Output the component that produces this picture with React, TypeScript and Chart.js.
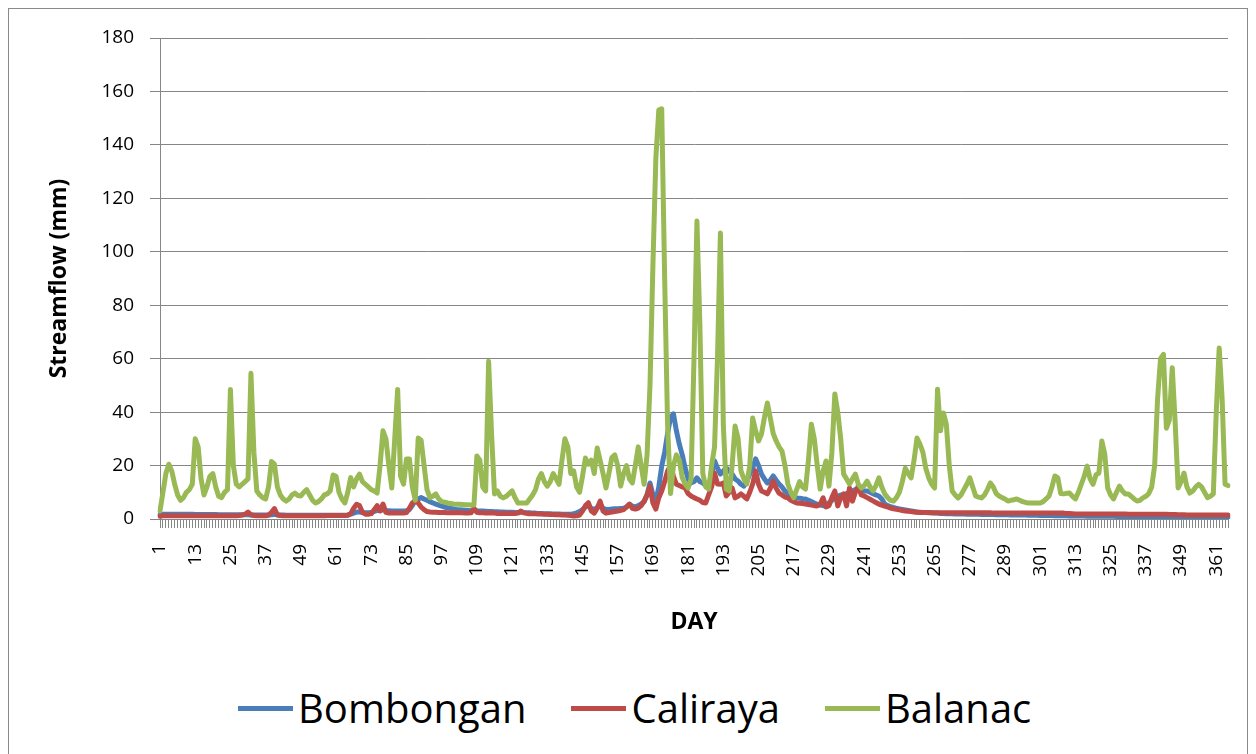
import React, { useEffect, useRef } from 'react';
import { Chart, registerables } from 'chart.js';

Chart.register(...registerables);

const DAYS: string[] = Array.from({ length: 365 }, (_, i) => String(i + 1));
const TICK_STEP = 12;

const BOMBONGAN: number[] = [
  1.5, 1.8, 1.8, 1.8, 1.8, 1.8, 1.8, 1.8, 1.8, 1.8,
  1.8, 1.8, 1.7, 1.7, 1.7, 1.7, 1.7, 1.7, 1.7, 1.7,
  1.6, 1.6, 1.6, 1.6, 1.6, 1.6, 1.6, 1.6, 1.6, 1.6,
  1.6, 1.5, 1.5, 1.5, 1.5, 1.5, 1.5, 1.5, 1.6, 1.8,
  1.5, 1.5, 1.5, 1.4, 1.4, 1.4, 1.4, 1.4, 1.4, 1.4,
  1.4, 1.4, 1.4, 1.4, 1.4, 1.4, 1.4, 1.4, 1.4, 1.4,
  1.4, 1.4, 1.4, 1.4, 1.5, 1.8, 2.2, 2.6, 2.6, 2.4,
  2.3, 2.3, 2.4, 2.8, 3.2, 3.2, 3.4, 3.2, 3.1, 3,
  3, 3, 3, 3, 3.1, 3.5, 5, 7, 7.5, 8,
  7.5, 7, 6.5, 6, 5.6, 5.2, 4.8, 4.5, 4.2, 4,
  3.8, 3.6, 3.5, 3.4, 3.3, 3.2, 3.1, 3.4, 3.1, 3,
  3, 2.9, 2.8, 2.8, 2.7, 2.7, 2.6, 2.6, 2.5, 2.5,
  2.5, 2.4, 2.4, 2.6, 2.4, 2.3, 2.3, 2.2, 2.2, 2.1,
  2.1, 2, 2, 2, 1.9, 1.9, 1.9, 1.8, 1.8, 1.8,
  1.8, 2, 2.3, 2.8, 3.5, 4.5, 5, 4, 3.6, 4.2,
  5.5, 4, 3.6, 3.6, 3.7, 3.8, 3.8, 3.9, 4, 4.5,
  5.5, 4.8, 4.5, 5, 5.6, 6.5, 9, 13.5, 9, 6.7,
  12, 19.8, 25, 32, 38, 39.3, 33, 28, 24, 19,
  15, 13.5, 14, 15.4, 14, 13.5, 12.5, 11.6, 17, 21.7,
  19, 16.8, 18, 19.1, 18, 16.8, 15, 14.2, 13, 12.3,
  14, 16.8, 19, 22.5, 20, 16.8, 15, 13.5, 14.5, 16.1,
  14.5, 13.1, 12, 10.5, 9.5, 8.6, 8.2, 7.9, 7.8, 7.6,
  7.5, 7, 6.5, 6, 5.5, 5.2, 5, 4.9, 6, 7,
  8, 8.5, 9, 9, 9.5, 10, 10.5, 11, 11, 11,
  10.5, 10.5, 10, 9.5, 9, 8.6, 7.5, 5.6, 5, 4.6,
  4.3, 4, 3.8, 3.6, 3.4, 3.2, 3, 2.8, 2.6, 2.5,
  2.4, 2.4, 2.3, 2.3, 2.2, 2.2, 2.1, 2.1, 2, 2,
  2, 1.9, 1.9, 1.9, 1.9, 1.8, 1.8, 1.8, 1.8, 1.8,
  1.7, 1.7, 1.7, 1.7, 1.7, 1.6, 1.6, 1.6, 1.6, 1.6,
  1.5, 1.5, 1.5, 1.5, 1.5, 1.5, 1.4, 1.4, 1.4, 1.4,
  1.3, 1.3, 1.3, 1.3, 1.3, 1.2, 1.2, 1.2, 1.2, 1.2,
  1.1, 1.1, 1.1, 1.1, 1.1, 1.1, 1, 1, 1, 1,
  1, 1, 1, 1, 1, 1, 0.95, 0.95, 0.95, 0.95,
  0.9, 0.9, 0.9, 0.9, 0.9, 0.9, 0.85, 0.85, 0.85, 0.85,
  0.85, 0.85, 0.8, 0.8, 0.8, 0.8, 0.8, 0.8, 0.8, 0.8,
  0.75, 0.75, 0.75, 0.75, 0.75, 0.75, 0.7, 0.7, 0.7, 0.7,
  0.7, 0.7, 0.7, 0.7, 0.7,
];

const CALIRAYA: number[] = [
  1, 1.2, 1.2, 1.2, 1.2, 1.2, 1.2, 1.2, 1.2, 1.2,
  1.2, 1.2, 1.2, 1.2, 1.2, 1.2, 1.2, 1.2, 1.2, 1.2,
  1.2, 1.2, 1.2, 1.2, 1.2, 1.2, 1.2, 1.3, 1.5, 1.8,
  2.6, 1.6, 1.3, 1.2, 1.2, 1.2, 1.2, 1.5, 2.5, 3.9,
  1.6, 1.3, 1.2, 1.2, 1.2, 1.2, 1.2, 1.2, 1.2, 1.2,
  1.2, 1.2, 1.2, 1.2, 1.2, 1.2, 1.2, 1.3, 1.3, 1.3,
  1.3, 1.3, 1.3, 1.3, 1.4, 2, 4, 5.5, 5, 2.5,
  1.8, 1.8, 2, 3.5, 5, 3, 5.6, 2.5, 2.2, 2.2,
  2.2, 2.2, 2.2, 2.2, 2.4, 4, 6, 6.7, 6, 4.5,
  3.5, 2.8, 2.6, 2.5, 2.5, 2.4, 2.4, 2.4, 2.3, 2.3,
  2.3, 2.3, 2.3, 2.3, 2.2, 2.2, 2.3, 4, 2.5, 2.3,
  2.3, 2.2, 2.2, 2.2, 2.2, 2.1, 2.1, 2.1, 2.1, 2.1,
  2.1, 2.1, 2.2, 3, 2.3, 2.1, 2, 2, 2, 1.9,
  1.9, 1.8, 1.8, 1.7, 1.7, 1.6, 1.6, 1.5, 1.5, 1.4,
  1.3, 1.1, 1.2, 1.5, 3, 5, 6.1, 3, 2.2, 4,
  6.7, 3, 2.2, 2.4, 2.6, 2.8, 3, 3.2, 3.5, 4.5,
  5.6, 4, 3.7, 4.1, 5, 6.7, 9, 12.3, 6, 3.7,
  8, 10.5, 14, 18, 20, 16, 13, 12.5, 12, 11.6,
  9.5, 8.6, 8, 7.5, 7, 6.2, 6, 9, 12, 17.2,
  13.1, 13, 13.5, 8.6, 10, 11.6, 7.9, 8.5, 9.4, 8.5,
  7.5, 10, 13.1, 18, 13, 10.5, 10, 9.4, 11.5, 14.2,
  11.5, 9.7, 9, 8.2, 7.9, 7, 6.5, 6, 5.9, 5.8,
  5.6, 5.4, 5.2, 5, 4.9, 5.5, 7.9, 4.5, 5, 8,
  10.5, 4.9, 8, 9.4, 4.9, 11.6, 6.7, 10, 12.3, 9,
  8.6, 8, 7.4, 6.8, 6.2, 5.6, 5.2, 4.8, 4.5, 4.1,
  3.8, 3.6, 3.4, 3.2, 3, 2.9, 2.8, 2.6, 2.5, 2.4,
  2.4, 2.4, 2.4, 2.3, 2.3, 2.3, 2.3, 2.3, 2.3, 2.3,
  2.3, 2.3, 2.3, 2.3, 2.3, 2.3, 2.3, 2.3, 2.3, 2.3,
  2.3, 2.3, 2.3, 2.3, 2.2, 2.2, 2.2, 2.2, 2.2, 2.2,
  2.2, 2.2, 2.2, 2.2, 2.2, 2.2, 2.2, 2.2, 2.2, 2.2,
  2.2, 2.2, 2.2, 2.2, 2.2, 2.2, 2.2, 2.2, 2.2, 2.1,
  2.1, 2, 1.9, 1.9, 1.9, 1.9, 1.9, 1.9, 1.9, 1.9,
  1.9, 1.9, 1.9, 1.9, 1.9, 1.9, 1.9, 1.9, 1.9, 1.9,
  1.8, 1.8, 1.8, 1.8, 1.8, 1.8, 1.8, 1.8, 1.8, 1.8,
  1.8, 1.8, 1.8, 1.8, 1.7, 1.7, 1.7, 1.6, 1.6, 1.6,
  1.5, 1.5, 1.5, 1.5, 1.5, 1.5, 1.5, 1.5, 1.5, 1.5,
  1.5, 1.5, 1.5, 1.5, 1.5,
];

const BALANAC: number[] = [
  3, 10, 17, 20.5, 18, 13, 9, 7, 8, 10,
  11, 13, 30, 27, 15, 9, 12, 16, 17, 12,
  8.5, 8, 10, 11, 48.5, 20, 13, 12, 13, 14,
  15, 54.5, 25, 10.5, 9, 8, 7.5, 12, 21.5, 20.5,
  12, 9, 7.5, 6.7, 7.5, 9, 9.7, 8.8, 8.6, 10,
  11, 9, 7, 6, 6.5, 7.5, 9, 9.4, 10.5, 16.5,
  16, 10, 7.5, 6, 10, 15.5, 12, 15, 16.8, 14,
  13, 12, 11, 10.5, 9.7, 20, 33, 30, 20, 11.6,
  30, 48.5, 16, 13, 22.5, 22.5, 12, 7, 30.3, 29.5,
  20, 11, 8, 8.5, 9.4, 7.5, 6.5, 6.3, 6, 5.8,
  5.6, 5.5, 5.5, 5.4, 5.3, 5.3, 5.2, 5.2, 23.6, 22,
  12, 10.5, 59, 32, 9.4, 10.5, 8.5, 7.9, 8.5, 9.5,
  10.5, 8, 6, 6, 6, 6, 7.5, 9, 11, 15,
  17, 14, 12.3, 14, 17, 15, 13, 22, 30, 27,
  17, 18, 12, 10, 16, 22.8, 20.5, 22, 17, 26.6,
  22, 17, 11.6, 17, 23, 24, 20, 12.3, 17, 20,
  15, 13.5, 20, 27, 20, 13, 24, 50, 95, 135,
  153, 153.5, 90, 35, 9.5, 20, 24, 22, 15.5, 13,
  11.6, 15, 60, 111.5, 73, 17, 12, 11.2, 20, 27,
  60, 107, 35, 11.2, 10.5, 20, 34.8, 30.3, 18, 15,
  13.1, 20, 37.8, 33, 29.2, 31.8, 38, 43.4, 37.8, 32,
  29.2, 27, 25.4, 20, 13.1, 10, 7.9, 11, 14, 12,
  11.2, 22, 35.5, 30, 20, 11.2, 18, 21.7, 12.3, 25,
  46.8, 40, 30, 16.8, 15, 13.1, 15, 16.8, 13, 11.6,
  12.5, 14.2, 12, 10.5, 12.5, 15.4, 12, 9.4, 8, 7,
  6.7, 8, 10, 14, 19, 17, 15.4, 22, 30.3, 28,
  25, 19, 15.4, 13, 11.6, 48.6, 33, 39.7, 35.5, 20,
  10.5, 9, 7.9, 9, 11, 13, 15.4, 12, 8.6, 8.2,
  7.9, 9, 11, 13.5, 12, 9.5, 8.6, 8, 7.5, 6.7,
  7, 7.2, 7.5, 7, 6.5, 6.2, 6, 6, 6, 6,
  6, 6.5, 7.5, 8.6, 12, 16.1, 15.4, 9.5, 9.4, 9.6,
  9.7, 8.5, 7.5, 10, 13, 16, 19.8, 15, 13, 16.5,
  17.2, 29.2, 24.3, 11.6, 9, 7.5, 10, 12.3, 10.5, 9.4,
  9.4, 8.5, 7.5, 6.7, 7, 7.9, 8.5, 9.5, 12, 20,
  45, 60, 61.6, 34, 37, 56.6, 36, 11.6, 14, 17.2,
  12, 9.7, 10.5, 12, 13, 12, 10, 8, 8.5, 9.4,
  40, 64, 45, 13, 12.5,
];

const SERIES_NAMES = ['Bombongan', 'Caliraya', 'Balanac'];
const SERIES_COLORS = ['#4A7EBB', '#BE4B48', '#98B954'];
const Y_MIN = 0;
const Y_MAX = 180;
const Y_STEP = 20;
const X_TITLE = 'DAY';
const Y_TITLE = 'Streamflow (mm)';

const FONT = '"Open Sans", "DejaVu Sans", sans-serif';
const GRID = '#868686';

export default function App() {
  const ref = useRef<HTMLCanvasElement>(null);

  useEffect(() => {
    document.documentElement.style.overflow = 'hidden';
    document.body.style.overflow = 'hidden';
    const series = [BOMBONGAN, CALIRAYA, BALANAC];
    const chart = new Chart(ref.current as HTMLCanvasElement, {
      type: 'line',
      data: {
        labels: DAYS,
        datasets: series.map((d, i) => ({
          label: SERIES_NAMES[i],
          data: d,
          borderColor: SERIES_COLORS[i],
          backgroundColor: SERIES_COLORS[i],
          borderWidth: 5,
          pointRadius: 0,
          pointHoverRadius: 0,
          tension: 0,
          borderJoinStyle: 'round' as const,
          borderCapStyle: 'round' as const,
          fill: false,
          order: 3 - i,
        })),
      },
      options: {
        responsive: false,
        animation: false,
        events: [],
        layout: { padding: { left: 33, top: 29, right: 19, bottom: 29 } },
        plugins: {
          legend: { display: false },
          tooltip: { enabled: false },
        },
        scales: {
          x: {
            type: 'category',
            offset: false,
            grid: { drawOnChartArea: false, drawTicks: true, tickLength: 9, color: GRID, lineWidth: 1 },
            border: { color: GRID, width: 1 },
            ticks: {
              autoSkip: false,
              minRotation: 90,
              maxRotation: 90,
              padding: 16,
              color: '#000',
              font: { family: FONT, size: 19 },
              callback: (_v: any, i: number) => (i % TICK_STEP === 0 ? DAYS[i] : ''),
            },
            title: {
              display: true,
              text: X_TITLE,
              color: '#000',
              font: { family: FONT, size: 23, weight: 'bold' },
              padding: { top: 4, bottom: 4 },
            },
            afterFit: (s: any) => {
              s.height = 121;
              s.paddingLeft = 0;
              s.paddingRight = 0;
            },
          },
          y: {
            min: Y_MIN,
            max: Y_MAX,
            grid: { color: GRID, lineWidth: 1, tickLength: 10, drawTicks: true },
            border: { color: GRID, width: 1 },
            ticks: {
              stepSize: Y_STEP,
              padding: 16,
              color: '#000',
              font: { family: FONT, size: 19 },
            },
            title: {
              display: true,
              text: Y_TITLE,
              color: '#000',
              font: { family: FONT, size: 23, weight: 'bold' },
              padding: { top: 4, bottom: 4 },
            },
            afterFit: (s: any) => {
              s.width = 118;
            },
          },
        },
      },
    } as any);
    return () => chart.destroy();
  }, []);

  return (
    <div style={{ height: 746, overflow: 'hidden' }}>
      <div
        style={{
          position: 'relative',
          width: 1238,
          height: 760,
          border: '1px solid #8a8a8a',
          background: '#fff',
        }}
      >
        <canvas ref={ref} width={1238} height={660} style={{ display: 'block' }} />
        <div
          style={{
            position: 'absolute',
            left: 229,
            top: 679,
            display: 'flex',
            alignItems: 'center',
            whiteSpace: 'nowrap',
          }}
        >
          {SERIES_NAMES.map((name, i) => (
            <div
              key={name}
              style={{ display: 'flex', alignItems: 'center', marginRight: i < SERIES_NAMES.length - 1 ? 45 : 0 }}
            >
              <span
                style={{
                  display: 'inline-block',
                  width: 55,
                  height: 5,
                  background: SERIES_COLORS[i],
                  marginRight: 5,
                }}
              />
              <span style={{ fontFamily: FONT, fontSize: 40, lineHeight: '40px', color: '#000' }}>{name}</span>
            </div>
          ))}
        </div>
      </div>
    </div>
  );
}
